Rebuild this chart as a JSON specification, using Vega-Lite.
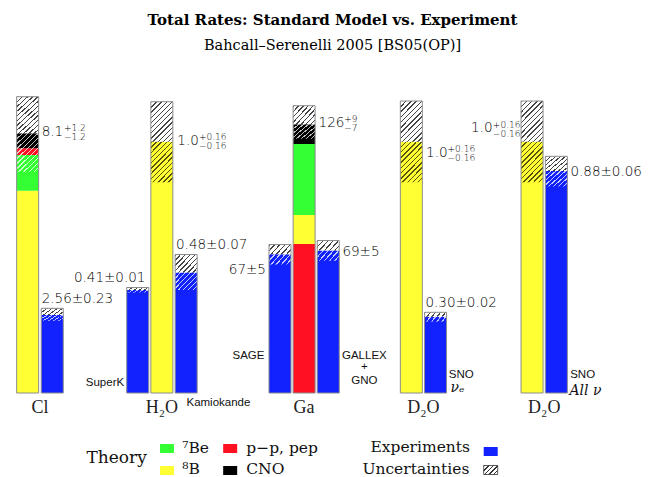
{
"$schema":"https://vega.github.io/schema/vega-lite/v6.json",
"width":649,"height":417,
"autosize":"none",
"padding":{"top":60,"left":0,"right":0,"bottom":0},
"background":"#ffffff",
"config":{"view":{"stroke":null}},
"title":{"text":"Total Rates: Standard Model vs. Experiment","subtitle":"Bahcall–Serenelli 2005 [BS05(OP)]","font":"DejaVu Serif","fontSize":15,"fontWeight":"bold","color":"#000000","subtitleFont":"DejaVu Serif","subtitleFontSize":14.5,"subtitleFontWeight":"normal","subtitleColor":"#000000","subtitlePadding":11,"anchor":"middle","frame":"group","offset":8,"dx":8},
"datasets":{
"segs":[
{"bar":"Cl_th","x":23,"source":"8B","k":1,"amount":202.3},
{"bar":"Cl_th","x":23,"source":"7Be","k":2,"amount":35.7},
{"bar":"Cl_th","x":23,"source":"pp","k":3,"amount":6.7},
{"bar":"Cl_th","x":23,"source":"CNO","k":4,"amount":15.0},
{"bar":"H2O_th","x":159.3,"source":"8B","k":1,"amount":251.3},
{"bar":"Ga_th","x":303.8,"source":"pp","k":1,"amount":149.0},
{"bar":"Ga_th","x":303.8,"source":"8B","k":2,"amount":29.0},
{"bar":"Ga_th","x":303.8,"source":"7Be","k":3,"amount":71.0},
{"bar":"Ga_th","x":303.8,"source":"CNO","k":4,"amount":19.7},
{"bar":"D2O_th1","x":412.7,"source":"8B","k":1,"amount":251.3},
{"bar":"D2O_th2","x":535.3,"source":"8B","k":1,"amount":251.3},
{"bar":"Cl_ex","x":48,"source":"Exp","k":1,"amount":78},
{"bar":"SuperK","x":134.8,"source":"Exp","k":1,"amount":103},
{"bar":"Kamiokande","x":184,"source":"Exp","k":1,"amount":120.5},
{"bar":"SAGE","x":279.3,"source":"Exp","k":1,"amount":138.7},
{"bar":"GALLEX","x":328.3,"source":"Exp","k":1,"amount":142.5},
{"bar":"SNO_e","x":437.3,"source":"Exp","k":1,"amount":76.3},
{"bar":"SNO_all","x":560,"source":"Exp","k":1,"amount":222}
],
"unc":[
{"bar":"Cl_th","x":23,"v":259.7,"hi":296.3,"lo":221.3},
{"bar":"H2O_th","x":159.3,"v":251.3,"hi":291.3,"lo":210.7},
{"bar":"Ga_th","x":303.8,"v":268.7,"hi":287.3,"lo":254.2},
{"bar":"D2O_th1","x":412.7,"v":251.3,"hi":292,"lo":210.7},
{"bar":"D2O_th2","x":535.3,"v":251.3,"hi":292,"lo":210.7},
{"bar":"Cl_ex","x":48,"v":78,"hi":84.7,"lo":72.3},
{"bar":"SuperK","x":134.8,"v":103,"hi":105.5,"lo":100.5},
{"bar":"Kamiokande","x":184,"v":120.5,"hi":138.5,"lo":103},
{"bar":"SAGE","x":279.3,"v":138.7,"hi":148.5,"lo":128.5},
{"bar":"GALLEX","x":328.3,"v":142.5,"hi":152.5,"lo":132.3},
{"bar":"SNO_e","x":437.3,"v":76.3,"hi":80.7,"lo":71.5},
{"bar":"SNO_all","x":560,"v":222,"hi":236.7,"lo":206.5}
],
"vals":[
{"t":"2.56±0.23","x":37.3,"y":94},
{"t":"0.41±0.01","x":70,"y":115.3},
{"t":"0.48±0.07","x":173.7,"y":148},
{"t":"69±5","x":342.7,"y":140.7},
{"t":"0.30±0.02","x":427,"y":90.3},
{"t":"0.88±0.06","x":574.3,"y":221.3}
],
"valsR":[{"t":"67±5","x":265,"y":123}],
"pred":[
{"t":"8.1","p":"+1.2","m":"−1.2","x":37.3,"sx":59.8,"y":261.3},
{"t":"1.0","p":"+0.16","m":"−0.16","x":175,"sx":197,"y":252.3},
{"t":"126","p":"+9","m":"−7","x":318.5,"sx":344.5,"y":270.3},
{"t":"1.0","p":"+0.16","m":"−0.16","x":427.7,"sx":449.5,"y":240.2},
{"t":"1.0","p":"+0.16","m":"−0.16","x":473.3,"sx":495.5,"y":264.7}
],
"cats":[
{"t":"Cl","x":35.5,"y":-15},
{"t":"H₂O","x":159.3,"y":-15},
{"t":"Ga","x":303.8,"y":-15},
{"t":"D₂O","x":425,"y":-15},
{"t":"D₂O","x":547.7,"y":-15}
],
"sansR":[{"t":"SuperK","x":121,"y":10.3},{"t":"SAGE","x":263.5,"y":37}],
"sansL":[{"t":"Kamiokande","x":184.3,"y":-9.7},{"t":"SNO","x":450.7,"y":18},{"t":"SNO","x":574,"y":18}],
"sansC":[{"t":"GALLEX","x":365,"y":37},{"t":"+","x":365,"y":25.7},{"t":"GNO","x":365,"y":12.3}],
"serifL":[{"t":"νₑ","x":452.5,"y":5},{"t":"All ν","x":573.3,"y":2}],
"legSq":[
{"source":"7Be","x":164.5,"y":-55.5},
{"source":"pp","x":228.7,"y":-55.5},
{"source":"8B","x":164.5,"y":-77.5},
{"source":"CNO","x":228.7,"y":-77.5},
{"source":"Exp","x":493.3,"y":-58.5}
],
"legHatch":[{"item":"Uncertainties","x":493.3,"y":-77}],
"legTheory":[{"t":"Theory","x":82.7,"y":-65.3}],
"legL":[
{"t":"⁷Be","x":180,"y":-55},
{"t":"p−p, pep","x":245,"y":-55},
{"t":"⁸B","x":180,"y":-75.5},
{"t":"CNO","x":245,"y":-75.5}
],
"legR":[{"t":"Experiments","x":472.3,"y":-54},{"t":"Uncertainties","x":471.7,"y":-75.5}]
},
"layer":[
{"data":{"name":"segs"},"mark":{"type":"bar","width":22},
 "encoding":{"x":{"field":"x","type":"quantitative","scale":{"domain":[0,649],"nice":false,"zero":false},"axis":null},
 "y":{"field":"amount","type":"quantitative","stack":"zero","scale":{"domain":[-84,333],"nice":false,"zero":false},"axis":null},
 "color":{"field":"source","type":"nominal","scale":{"domain":["7Be","pp","8B","CNO","Exp"],"range":["#33ff33","#ff1122","#ffff33","#000000","#1122ff"]},"legend":null},
 "order":{"field":"k","type":"quantitative"}}},
{"data":{"name":"unc"},"transform":[{"filter":{"field":"bar","oneOf":["Cl_th","H2O_th","D2O_th1","D2O_th2"]}}],
 "mark":{"type":"bar","width":22,"fill":{"gradient":"linear","x1":0,"y1":0,"x2":0.6545,"y2":1.19,"stops":[
{"offset":0,"color":"#444444"},{"offset":0.0233,"color":"#444444"},{"offset":0.0233,"color":"#ffffff"},{"offset":0.0833,"color":"#ffffff"},
{"offset":0.0833,"color":"#444444"},{"offset":0.1067,"color":"#444444"},{"offset":0.1067,"color":"#ffffff"},{"offset":0.1667,"color":"#ffffff"},
{"offset":0.1667,"color":"#444444"},{"offset":0.19,"color":"#444444"},{"offset":0.19,"color":"#ffffff"},{"offset":0.25,"color":"#ffffff"},
{"offset":0.25,"color":"#444444"},{"offset":0.2733,"color":"#444444"},{"offset":0.2733,"color":"#ffffff"},{"offset":0.3333,"color":"#ffffff"},
{"offset":0.3333,"color":"#444444"},{"offset":0.3567,"color":"#444444"},{"offset":0.3567,"color":"#ffffff"},{"offset":0.4167,"color":"#ffffff"},
{"offset":0.4167,"color":"#444444"},{"offset":0.44,"color":"#444444"},{"offset":0.44,"color":"#ffffff"},{"offset":0.5,"color":"#ffffff"},
{"offset":0.5,"color":"#444444"},{"offset":0.5233,"color":"#444444"},{"offset":0.5233,"color":"#ffffff"},{"offset":0.5833,"color":"#ffffff"},
{"offset":0.5833,"color":"#444444"},{"offset":0.6067,"color":"#444444"},{"offset":0.6067,"color":"#ffffff"},{"offset":0.6667,"color":"#ffffff"},
{"offset":0.6667,"color":"#444444"},{"offset":0.69,"color":"#444444"},{"offset":0.69,"color":"#ffffff"},{"offset":0.75,"color":"#ffffff"},
{"offset":0.75,"color":"#444444"},{"offset":0.7733,"color":"#444444"},{"offset":0.7733,"color":"#ffffff"},{"offset":0.8333,"color":"#ffffff"},
{"offset":0.8333,"color":"#444444"},{"offset":0.8567,"color":"#444444"},{"offset":0.8567,"color":"#ffffff"},{"offset":0.9167,"color":"#ffffff"},
{"offset":0.9167,"color":"#444444"},{"offset":0.94,"color":"#444444"},{"offset":0.94,"color":"#ffffff"},{"offset":1,"color":"#ffffff"}]}},
 "encoding":{"x":{"field":"x","type":"quantitative","scale":{"domain":[0,649],"nice":false,"zero":false},"axis":null},
 "y":{"field":"v","type":"quantitative","scale":{"domain":[-84,333],"nice":false,"zero":false},"axis":null},"y2":{"field":"hi"}}},
{"data":{"name":"unc"},"transform":[{"filter":{"field":"bar","oneOf":["Ga_th","Kamiokande","SNO_all"]}}],
 "mark":{"type":"bar","width":22,"fill":{"gradient":"linear","x1":0,"y1":0,"x2":1.11,"y2":0.858,"stops":[
{"offset":0,"color":"#444444"},{"offset":0.035,"color":"#444444"},{"offset":0.035,"color":"#ffffff"},{"offset":0.125,"color":"#ffffff"},
{"offset":0.125,"color":"#444444"},{"offset":0.16,"color":"#444444"},{"offset":0.16,"color":"#ffffff"},{"offset":0.25,"color":"#ffffff"},
{"offset":0.25,"color":"#444444"},{"offset":0.285,"color":"#444444"},{"offset":0.285,"color":"#ffffff"},{"offset":0.375,"color":"#ffffff"},
{"offset":0.375,"color":"#444444"},{"offset":0.41,"color":"#444444"},{"offset":0.41,"color":"#ffffff"},{"offset":0.5,"color":"#ffffff"},
{"offset":0.5,"color":"#444444"},{"offset":0.535,"color":"#444444"},{"offset":0.535,"color":"#ffffff"},{"offset":0.625,"color":"#ffffff"},
{"offset":0.625,"color":"#444444"},{"offset":0.66,"color":"#444444"},{"offset":0.66,"color":"#ffffff"},{"offset":0.75,"color":"#ffffff"},
{"offset":0.75,"color":"#444444"},{"offset":0.785,"color":"#444444"},{"offset":0.785,"color":"#ffffff"},{"offset":0.875,"color":"#ffffff"},
{"offset":0.875,"color":"#444444"},{"offset":0.91,"color":"#444444"},{"offset":0.91,"color":"#ffffff"},{"offset":1,"color":"#ffffff"}]}},
 "encoding":{"x":{"field":"x","type":"quantitative","scale":{"domain":[0,649],"nice":false,"zero":false},"axis":null},
 "y":{"field":"v","type":"quantitative","scale":{"domain":[-84,333],"nice":false,"zero":false},"axis":null},"y2":{"field":"hi"}}},
{"data":{"name":"unc"},"transform":[{"filter":{"field":"bar","oneOf":["Cl_ex","SAGE","GALLEX"]}}],
 "mark":{"type":"bar","width":22,"fill":{"gradient":"linear","x1":0,"y1":0,"x2":1.207,"y2":0.494,"stops":[
{"offset":0,"color":"#444444"},{"offset":0.0467,"color":"#444444"},{"offset":0.0467,"color":"#ffffff"},{"offset":0.1667,"color":"#ffffff"},
{"offset":0.1667,"color":"#444444"},{"offset":0.2133,"color":"#444444"},{"offset":0.2133,"color":"#ffffff"},{"offset":0.3333,"color":"#ffffff"},
{"offset":0.3333,"color":"#444444"},{"offset":0.38,"color":"#444444"},{"offset":0.38,"color":"#ffffff"},{"offset":0.5,"color":"#ffffff"},
{"offset":0.5,"color":"#444444"},{"offset":0.5467,"color":"#444444"},{"offset":0.5467,"color":"#ffffff"},{"offset":0.6667,"color":"#ffffff"},
{"offset":0.6667,"color":"#444444"},{"offset":0.7133,"color":"#444444"},{"offset":0.7133,"color":"#ffffff"},{"offset":0.8333,"color":"#ffffff"},
{"offset":0.8333,"color":"#444444"},{"offset":0.88,"color":"#444444"},{"offset":0.88,"color":"#ffffff"},{"offset":1,"color":"#ffffff"}]}},
 "encoding":{"x":{"field":"x","type":"quantitative","scale":{"domain":[0,649],"nice":false,"zero":false},"axis":null},
 "y":{"field":"v","type":"quantitative","scale":{"domain":[-84,333],"nice":false,"zero":false},"axis":null},"y2":{"field":"hi"}}},
{"data":{"name":"unc"},"transform":[{"filter":{"field":"bar","oneOf":["SuperK","SNO_e"]}}],
 "mark":{"type":"bar","width":22,"fill":{"gradient":"linear","x1":0,"y1":0,"x2":1.1305,"y2":0.18,"stops":[
{"offset":0,"color":"#444444"},{"offset":0.056,"color":"#444444"},{"offset":0.056,"color":"#ffffff"},{"offset":0.2,"color":"#ffffff"},
{"offset":0.2,"color":"#444444"},{"offset":0.256,"color":"#444444"},{"offset":0.256,"color":"#ffffff"},{"offset":0.4,"color":"#ffffff"},
{"offset":0.4,"color":"#444444"},{"offset":0.456,"color":"#444444"},{"offset":0.456,"color":"#ffffff"},{"offset":0.6,"color":"#ffffff"},
{"offset":0.6,"color":"#444444"},{"offset":0.656,"color":"#444444"},{"offset":0.656,"color":"#ffffff"},{"offset":0.8,"color":"#ffffff"},
{"offset":0.8,"color":"#444444"},{"offset":0.856,"color":"#444444"},{"offset":0.856,"color":"#ffffff"},{"offset":1,"color":"#ffffff"}]}},
 "encoding":{"x":{"field":"x","type":"quantitative","scale":{"domain":[0,649],"nice":false,"zero":false},"axis":null},
 "y":{"field":"v","type":"quantitative","scale":{"domain":[-84,333],"nice":false,"zero":false},"axis":null},"y2":{"field":"hi"}}},
{"data":{"name":"unc"},"transform":[{"filter":{"field":"bar","oneOf":["H2O_th","D2O_th1","D2O_th2"]}}],
 "mark":{"type":"bar","width":22,"fill":{"gradient":"linear","x1":0,"y1":0,"x2":0.6545,"y2":1.19,"stops":[
{"offset":0,"color":"rgba(40,40,0,0.8)"},{"offset":0.0233,"color":"rgba(40,40,0,0.8)"},{"offset":0.0233,"color":"rgba(40,40,0,0)"},{"offset":0.0833,"color":"rgba(40,40,0,0)"},
{"offset":0.0833,"color":"rgba(40,40,0,0.8)"},{"offset":0.1067,"color":"rgba(40,40,0,0.8)"},{"offset":0.1067,"color":"rgba(40,40,0,0)"},{"offset":0.1667,"color":"rgba(40,40,0,0)"},
{"offset":0.1667,"color":"rgba(40,40,0,0.8)"},{"offset":0.19,"color":"rgba(40,40,0,0.8)"},{"offset":0.19,"color":"rgba(40,40,0,0)"},{"offset":0.25,"color":"rgba(40,40,0,0)"},
{"offset":0.25,"color":"rgba(40,40,0,0.8)"},{"offset":0.2733,"color":"rgba(40,40,0,0.8)"},{"offset":0.2733,"color":"rgba(40,40,0,0)"},{"offset":0.3333,"color":"rgba(40,40,0,0)"},
{"offset":0.3333,"color":"rgba(40,40,0,0.8)"},{"offset":0.3567,"color":"rgba(40,40,0,0.8)"},{"offset":0.3567,"color":"rgba(40,40,0,0)"},{"offset":0.4167,"color":"rgba(40,40,0,0)"},
{"offset":0.4167,"color":"rgba(40,40,0,0.8)"},{"offset":0.44,"color":"rgba(40,40,0,0.8)"},{"offset":0.44,"color":"rgba(40,40,0,0)"},{"offset":0.5,"color":"rgba(40,40,0,0)"},
{"offset":0.5,"color":"rgba(40,40,0,0.8)"},{"offset":0.5233,"color":"rgba(40,40,0,0.8)"},{"offset":0.5233,"color":"rgba(40,40,0,0)"},{"offset":0.5833,"color":"rgba(40,40,0,0)"},
{"offset":0.5833,"color":"rgba(40,40,0,0.8)"},{"offset":0.6067,"color":"rgba(40,40,0,0.8)"},{"offset":0.6067,"color":"rgba(40,40,0,0)"},{"offset":0.6667,"color":"rgba(40,40,0,0)"},
{"offset":0.6667,"color":"rgba(40,40,0,0.8)"},{"offset":0.69,"color":"rgba(40,40,0,0.8)"},{"offset":0.69,"color":"rgba(40,40,0,0)"},{"offset":0.75,"color":"rgba(40,40,0,0)"},
{"offset":0.75,"color":"rgba(40,40,0,0.8)"},{"offset":0.7733,"color":"rgba(40,40,0,0.8)"},{"offset":0.7733,"color":"rgba(40,40,0,0)"},{"offset":0.8333,"color":"rgba(40,40,0,0)"},
{"offset":0.8333,"color":"rgba(40,40,0,0.8)"},{"offset":0.8567,"color":"rgba(40,40,0,0.8)"},{"offset":0.8567,"color":"rgba(40,40,0,0)"},{"offset":0.9167,"color":"rgba(40,40,0,0)"},
{"offset":0.9167,"color":"rgba(40,40,0,0.8)"},{"offset":0.94,"color":"rgba(40,40,0,0.8)"},{"offset":0.94,"color":"rgba(40,40,0,0)"},{"offset":1,"color":"rgba(40,40,0,0)"}]}},
 "encoding":{"x":{"field":"x","type":"quantitative","scale":{"domain":[0,649],"nice":false,"zero":false},"axis":null},
 "y":{"field":"lo","type":"quantitative","scale":{"domain":[-84,333],"nice":false,"zero":false},"axis":null},"y2":{"field":"v"}}},
{"data":{"name":"unc"},"transform":[{"filter":{"field":"bar","oneOf":["Cl_th"]}}],
 "mark":{"type":"bar","width":22,"fill":{"gradient":"linear","x1":0,"y1":0,"x2":0.6545,"y2":1.19,"stops":[
{"offset":0,"color":"rgba(255,255,255,0.75)"},{"offset":0.0233,"color":"rgba(255,255,255,0.75)"},{"offset":0.0233,"color":"rgba(255,255,255,0)"},{"offset":0.0833,"color":"rgba(255,255,255,0)"},
{"offset":0.0833,"color":"rgba(255,255,255,0.75)"},{"offset":0.1067,"color":"rgba(255,255,255,0.75)"},{"offset":0.1067,"color":"rgba(255,255,255,0)"},{"offset":0.1667,"color":"rgba(255,255,255,0)"},
{"offset":0.1667,"color":"rgba(255,255,255,0.75)"},{"offset":0.19,"color":"rgba(255,255,255,0.75)"},{"offset":0.19,"color":"rgba(255,255,255,0)"},{"offset":0.25,"color":"rgba(255,255,255,0)"},
{"offset":0.25,"color":"rgba(255,255,255,0.75)"},{"offset":0.2733,"color":"rgba(255,255,255,0.75)"},{"offset":0.2733,"color":"rgba(255,255,255,0)"},{"offset":0.3333,"color":"rgba(255,255,255,0)"},
{"offset":0.3333,"color":"rgba(255,255,255,0.75)"},{"offset":0.3567,"color":"rgba(255,255,255,0.75)"},{"offset":0.3567,"color":"rgba(255,255,255,0)"},{"offset":0.4167,"color":"rgba(255,255,255,0)"},
{"offset":0.4167,"color":"rgba(255,255,255,0.75)"},{"offset":0.44,"color":"rgba(255,255,255,0.75)"},{"offset":0.44,"color":"rgba(255,255,255,0)"},{"offset":0.5,"color":"rgba(255,255,255,0)"},
{"offset":0.5,"color":"rgba(255,255,255,0.75)"},{"offset":0.5233,"color":"rgba(255,255,255,0.75)"},{"offset":0.5233,"color":"rgba(255,255,255,0)"},{"offset":0.5833,"color":"rgba(255,255,255,0)"},
{"offset":0.5833,"color":"rgba(255,255,255,0.75)"},{"offset":0.6067,"color":"rgba(255,255,255,0.75)"},{"offset":0.6067,"color":"rgba(255,255,255,0)"},{"offset":0.6667,"color":"rgba(255,255,255,0)"},
{"offset":0.6667,"color":"rgba(255,255,255,0.75)"},{"offset":0.69,"color":"rgba(255,255,255,0.75)"},{"offset":0.69,"color":"rgba(255,255,255,0)"},{"offset":0.75,"color":"rgba(255,255,255,0)"},
{"offset":0.75,"color":"rgba(255,255,255,0.75)"},{"offset":0.7733,"color":"rgba(255,255,255,0.75)"},{"offset":0.7733,"color":"rgba(255,255,255,0)"},{"offset":0.8333,"color":"rgba(255,255,255,0)"},
{"offset":0.8333,"color":"rgba(255,255,255,0.75)"},{"offset":0.8567,"color":"rgba(255,255,255,0.75)"},{"offset":0.8567,"color":"rgba(255,255,255,0)"},{"offset":0.9167,"color":"rgba(255,255,255,0)"},
{"offset":0.9167,"color":"rgba(255,255,255,0.75)"},{"offset":0.94,"color":"rgba(255,255,255,0.75)"},{"offset":0.94,"color":"rgba(255,255,255,0)"},{"offset":1,"color":"rgba(255,255,255,0)"}]}},
 "encoding":{"x":{"field":"x","type":"quantitative","scale":{"domain":[0,649],"nice":false,"zero":false},"axis":null},
 "y":{"field":"lo","type":"quantitative","scale":{"domain":[-84,333],"nice":false,"zero":false},"axis":null},"y2":{"field":"v"}}},
{"data":{"name":"unc"},"transform":[{"filter":{"field":"bar","oneOf":["Ga_th","Kamiokande","SNO_all"]}}],
 "mark":{"type":"bar","width":22,"fill":{"gradient":"linear","x1":0,"y1":0,"x2":1.11,"y2":0.858,"stops":[
{"offset":0,"color":"rgba(255,255,255,0.75)"},{"offset":0.035,"color":"rgba(255,255,255,0.75)"},{"offset":0.035,"color":"rgba(255,255,255,0)"},{"offset":0.125,"color":"rgba(255,255,255,0)"},
{"offset":0.125,"color":"rgba(255,255,255,0.75)"},{"offset":0.16,"color":"rgba(255,255,255,0.75)"},{"offset":0.16,"color":"rgba(255,255,255,0)"},{"offset":0.25,"color":"rgba(255,255,255,0)"},
{"offset":0.25,"color":"rgba(255,255,255,0.75)"},{"offset":0.285,"color":"rgba(255,255,255,0.75)"},{"offset":0.285,"color":"rgba(255,255,255,0)"},{"offset":0.375,"color":"rgba(255,255,255,0)"},
{"offset":0.375,"color":"rgba(255,255,255,0.75)"},{"offset":0.41,"color":"rgba(255,255,255,0.75)"},{"offset":0.41,"color":"rgba(255,255,255,0)"},{"offset":0.5,"color":"rgba(255,255,255,0)"},
{"offset":0.5,"color":"rgba(255,255,255,0.75)"},{"offset":0.535,"color":"rgba(255,255,255,0.75)"},{"offset":0.535,"color":"rgba(255,255,255,0)"},{"offset":0.625,"color":"rgba(255,255,255,0)"},
{"offset":0.625,"color":"rgba(255,255,255,0.75)"},{"offset":0.66,"color":"rgba(255,255,255,0.75)"},{"offset":0.66,"color":"rgba(255,255,255,0)"},{"offset":0.75,"color":"rgba(255,255,255,0)"},
{"offset":0.75,"color":"rgba(255,255,255,0.75)"},{"offset":0.785,"color":"rgba(255,255,255,0.75)"},{"offset":0.785,"color":"rgba(255,255,255,0)"},{"offset":0.875,"color":"rgba(255,255,255,0)"},
{"offset":0.875,"color":"rgba(255,255,255,0.75)"},{"offset":0.91,"color":"rgba(255,255,255,0.75)"},{"offset":0.91,"color":"rgba(255,255,255,0)"},{"offset":1,"color":"rgba(255,255,255,0)"}]}},
 "encoding":{"x":{"field":"x","type":"quantitative","scale":{"domain":[0,649],"nice":false,"zero":false},"axis":null},
 "y":{"field":"lo","type":"quantitative","scale":{"domain":[-84,333],"nice":false,"zero":false},"axis":null},"y2":{"field":"v"}}},
{"data":{"name":"unc"},"transform":[{"filter":{"field":"bar","oneOf":["Cl_ex","SAGE","GALLEX"]}}],
 "mark":{"type":"bar","width":22,"fill":{"gradient":"linear","x1":0,"y1":0,"x2":1.207,"y2":0.494,"stops":[
{"offset":0,"color":"rgba(255,255,255,0.75)"},{"offset":0.0467,"color":"rgba(255,255,255,0.75)"},{"offset":0.0467,"color":"rgba(255,255,255,0)"},{"offset":0.1667,"color":"rgba(255,255,255,0)"},
{"offset":0.1667,"color":"rgba(255,255,255,0.75)"},{"offset":0.2133,"color":"rgba(255,255,255,0.75)"},{"offset":0.2133,"color":"rgba(255,255,255,0)"},{"offset":0.3333,"color":"rgba(255,255,255,0)"},
{"offset":0.3333,"color":"rgba(255,255,255,0.75)"},{"offset":0.38,"color":"rgba(255,255,255,0.75)"},{"offset":0.38,"color":"rgba(255,255,255,0)"},{"offset":0.5,"color":"rgba(255,255,255,0)"},
{"offset":0.5,"color":"rgba(255,255,255,0.75)"},{"offset":0.5467,"color":"rgba(255,255,255,0.75)"},{"offset":0.5467,"color":"rgba(255,255,255,0)"},{"offset":0.6667,"color":"rgba(255,255,255,0)"},
{"offset":0.6667,"color":"rgba(255,255,255,0.75)"},{"offset":0.7133,"color":"rgba(255,255,255,0.75)"},{"offset":0.7133,"color":"rgba(255,255,255,0)"},{"offset":0.8333,"color":"rgba(255,255,255,0)"},
{"offset":0.8333,"color":"rgba(255,255,255,0.75)"},{"offset":0.88,"color":"rgba(255,255,255,0.75)"},{"offset":0.88,"color":"rgba(255,255,255,0)"},{"offset":1,"color":"rgba(255,255,255,0)"}]}},
 "encoding":{"x":{"field":"x","type":"quantitative","scale":{"domain":[0,649],"nice":false,"zero":false},"axis":null},
 "y":{"field":"lo","type":"quantitative","scale":{"domain":[-84,333],"nice":false,"zero":false},"axis":null},"y2":{"field":"v"}}},
{"data":{"name":"unc"},"transform":[{"filter":{"field":"bar","oneOf":["SuperK","SNO_e"]}}],
 "mark":{"type":"bar","width":22,"fill":{"gradient":"linear","x1":0,"y1":0,"x2":1.1305,"y2":0.18,"stops":[
{"offset":0,"color":"rgba(255,255,255,0.75)"},{"offset":0.056,"color":"rgba(255,255,255,0.75)"},{"offset":0.056,"color":"rgba(255,255,255,0)"},{"offset":0.2,"color":"rgba(255,255,255,0)"},
{"offset":0.2,"color":"rgba(255,255,255,0.75)"},{"offset":0.256,"color":"rgba(255,255,255,0.75)"},{"offset":0.256,"color":"rgba(255,255,255,0)"},{"offset":0.4,"color":"rgba(255,255,255,0)"},
{"offset":0.4,"color":"rgba(255,255,255,0.75)"},{"offset":0.456,"color":"rgba(255,255,255,0.75)"},{"offset":0.456,"color":"rgba(255,255,255,0)"},{"offset":0.6,"color":"rgba(255,255,255,0)"},
{"offset":0.6,"color":"rgba(255,255,255,0.75)"},{"offset":0.656,"color":"rgba(255,255,255,0.75)"},{"offset":0.656,"color":"rgba(255,255,255,0)"},{"offset":0.8,"color":"rgba(255,255,255,0)"},
{"offset":0.8,"color":"rgba(255,255,255,0.75)"},{"offset":0.856,"color":"rgba(255,255,255,0.75)"},{"offset":0.856,"color":"rgba(255,255,255,0)"},{"offset":1,"color":"rgba(255,255,255,0)"}]}},
 "encoding":{"x":{"field":"x","type":"quantitative","scale":{"domain":[0,649],"nice":false,"zero":false},"axis":null},
 "y":{"field":"lo","type":"quantitative","scale":{"domain":[-84,333],"nice":false,"zero":false},"axis":null},"y2":{"field":"v"}}},
{"data":{"name":"unc"},"mark":{"type":"bar","width":22,"fill":"transparent","stroke":"#8c8c8c","strokeWidth":1},
 "encoding":{"x":{"field":"x","type":"quantitative","scale":{"domain":[0,649],"nice":false,"zero":false},"axis":null},
 "y":{"field":"hi","type":"quantitative","scale":{"domain":[-84,333],"nice":false,"zero":false},"axis":null},"y2":{"datum":0}}},
{"data":{"name":"vals"},"mark":{"type":"text","align":"left","baseline":"middle","font":"DejaVu Sans","fontWeight":300,"fontSize":13.5,"color":"#000000"},
 "encoding":{"x":{"field":"x","type":"quantitative","scale":{"domain":[0,649],"nice":false,"zero":false},"axis":null},
 "y":{"field":"y","type":"quantitative","scale":{"domain":[-84,333],"nice":false,"zero":false},"axis":null},"text":{"field":"t"}}},
{"data":{"name":"valsR"},"mark":{"type":"text","align":"right","baseline":"middle","font":"DejaVu Sans","fontWeight":300,"fontSize":13.5,"color":"#000000"},
 "encoding":{"x":{"field":"x","type":"quantitative","scale":{"domain":[0,649],"nice":false,"zero":false},"axis":null},
 "y":{"field":"y","type":"quantitative","scale":{"domain":[-84,333],"nice":false,"zero":false},"axis":null},"text":{"field":"t"}}},
{"data":{"name":"pred"},"mark":{"type":"text","align":"left","baseline":"middle","font":"DejaVu Sans","fontWeight":300,"fontSize":13.5,"color":"#000000"},
 "encoding":{"x":{"field":"x","type":"quantitative","scale":{"domain":[0,649],"nice":false,"zero":false},"axis":null},
 "y":{"field":"y","type":"quantitative","scale":{"domain":[-84,333],"nice":false,"zero":false},"axis":null},"text":{"field":"t"}}},
{"data":{"name":"pred"},"mark":{"type":"text","align":"left","baseline":"middle","font":"DejaVu Sans","fontWeight":300,"fontSize":9,"dy":-3.5,"color":"#000000"},
 "encoding":{"x":{"field":"sx","type":"quantitative","scale":{"domain":[0,649],"nice":false,"zero":false},"axis":null},
 "y":{"field":"y","type":"quantitative","scale":{"domain":[-84,333],"nice":false,"zero":false},"axis":null},"text":{"field":"p"}}},
{"data":{"name":"pred"},"mark":{"type":"text","align":"left","baseline":"middle","font":"DejaVu Sans","fontWeight":300,"fontSize":9,"dy":5.5,"color":"#000000"},
 "encoding":{"x":{"field":"sx","type":"quantitative","scale":{"domain":[0,649],"nice":false,"zero":false},"axis":null},
 "y":{"field":"y","type":"quantitative","scale":{"domain":[-84,333],"nice":false,"zero":false},"axis":null},"text":{"field":"m"}}},
{"data":{"name":"cats"},"mark":{"type":"text","align":"center","baseline":"middle","font":"Liberation Serif","fontSize":18,"color":"#222222"},
 "encoding":{"x":{"field":"x","type":"quantitative","scale":{"domain":[0,649],"nice":false,"zero":false},"axis":null},
 "y":{"field":"y","type":"quantitative","scale":{"domain":[-84,333],"nice":false,"zero":false},"axis":null},"text":{"field":"t"}}},
{"data":{"name":"sansR"},"mark":{"type":"text","align":"right","baseline":"middle","font":"Liberation Sans","fontSize":11.5,"color":"#111111"},
 "encoding":{"x":{"field":"x","type":"quantitative","scale":{"domain":[0,649],"nice":false,"zero":false},"axis":null},
 "y":{"field":"y","type":"quantitative","scale":{"domain":[-84,333],"nice":false,"zero":false},"axis":null},"text":{"field":"t"}}},
{"data":{"name":"sansL"},"mark":{"type":"text","align":"left","baseline":"middle","font":"Liberation Sans","fontSize":11.5,"color":"#111111"},
 "encoding":{"x":{"field":"x","type":"quantitative","scale":{"domain":[0,649],"nice":false,"zero":false},"axis":null},
 "y":{"field":"y","type":"quantitative","scale":{"domain":[-84,333],"nice":false,"zero":false},"axis":null},"text":{"field":"t"}}},
{"data":{"name":"sansC"},"mark":{"type":"text","align":"center","baseline":"middle","font":"Liberation Sans","fontSize":11.5,"color":"#111111"},
 "encoding":{"x":{"field":"x","type":"quantitative","scale":{"domain":[0,649],"nice":false,"zero":false},"axis":null},
 "y":{"field":"y","type":"quantitative","scale":{"domain":[-84,333],"nice":false,"zero":false},"axis":null},"text":{"field":"t"}}},
{"data":{"name":"serifL"},"mark":{"type":"text","align":"left","baseline":"middle","font":"DejaVu Serif","fontSize":14,"fontStyle":"italic","color":"#111111"},
 "encoding":{"x":{"field":"x","type":"quantitative","scale":{"domain":[0,649],"nice":false,"zero":false},"axis":null},
 "y":{"field":"y","type":"quantitative","scale":{"domain":[-84,333],"nice":false,"zero":false},"axis":null},"text":{"field":"t"}}},
{"data":{"name":"legSq"},"mark":{"type":"point","shape":"M-1,-0.643L1,-0.643L1,0.643L-1,0.643Z","size":196,"filled":true,"opacity":1,"strokeWidth":0},
 "encoding":{"x":{"field":"x","type":"quantitative","scale":{"domain":[0,649],"nice":false,"zero":false},"axis":null},
 "y":{"field":"y","type":"quantitative","scale":{"domain":[-84,333],"nice":false,"zero":false},"axis":null},
 "color":{"field":"source","type":"nominal","scale":{"domain":["7Be","pp","8B","CNO","Exp"],"range":["#33ff33","#ff1122","#ffff33","#000000","#1122ff"]},"legend":null}}},
{"data":{"name":"legHatch"},"mark":{"type":"point","shape":"M-1,-0.643L1,-0.643L1,0.643L-1,0.643Z","size":196,"opacity":1,"stroke":"#333333","strokeWidth":0.8,"fill":{"gradient":"linear","x1":0,"y1":0,"x2":1.162,"y2":0.747,"stops":[
{"offset":0,"color":"#333333"},{"offset":0.06,"color":"#333333"},{"offset":0.06,"color":"#ffffff"},{"offset":0.2,"color":"#ffffff"},
{"offset":0.2,"color":"#333333"},{"offset":0.26,"color":"#333333"},{"offset":0.26,"color":"#ffffff"},{"offset":0.4,"color":"#ffffff"},
{"offset":0.4,"color":"#333333"},{"offset":0.46,"color":"#333333"},{"offset":0.46,"color":"#ffffff"},{"offset":0.6,"color":"#ffffff"},
{"offset":0.6,"color":"#333333"},{"offset":0.66,"color":"#333333"},{"offset":0.66,"color":"#ffffff"},{"offset":0.8,"color":"#ffffff"},
{"offset":0.8,"color":"#333333"},{"offset":0.86,"color":"#333333"},{"offset":0.86,"color":"#ffffff"},{"offset":1,"color":"#ffffff"}]}},
 "encoding":{"x":{"field":"x","type":"quantitative","scale":{"domain":[0,649],"nice":false,"zero":false},"axis":null},
 "y":{"field":"y","type":"quantitative","scale":{"domain":[-84,333],"nice":false,"zero":false},"axis":null}}},
{"data":{"name":"legTheory"},"mark":{"type":"text","align":"left","baseline":"middle","font":"DejaVu Serif","fontSize":17,"color":"#111111"},
 "encoding":{"x":{"field":"x","type":"quantitative","scale":{"domain":[0,649],"nice":false,"zero":false},"axis":null},
 "y":{"field":"y","type":"quantitative","scale":{"domain":[-84,333],"nice":false,"zero":false},"axis":null},"text":{"field":"t"}}},
{"data":{"name":"legL"},"mark":{"type":"text","align":"left","baseline":"middle","font":"DejaVu Serif","fontSize":15.5,"color":"#111111"},
 "encoding":{"x":{"field":"x","type":"quantitative","scale":{"domain":[0,649],"nice":false,"zero":false},"axis":null},
 "y":{"field":"y","type":"quantitative","scale":{"domain":[-84,333],"nice":false,"zero":false},"axis":null},"text":{"field":"t"}}},
{"data":{"name":"legR"},"mark":{"type":"text","align":"right","baseline":"middle","font":"DejaVu Serif","fontSize":15.5,"color":"#111111"},
 "encoding":{"x":{"field":"x","type":"quantitative","scale":{"domain":[0,649],"nice":false,"zero":false},"axis":null},
 "y":{"field":"y","type":"quantitative","scale":{"domain":[-84,333],"nice":false,"zero":false},"axis":null},"text":{"field":"t"}}}
]
}
